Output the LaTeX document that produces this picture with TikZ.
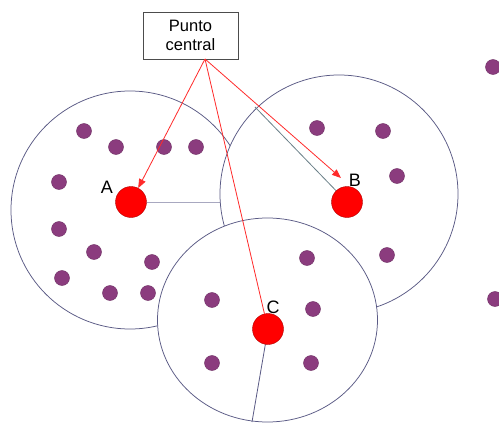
\documentclass[tikz,border=0pt]{standalone}
\usepackage{fontspec}
\setmainfont{Liberation Sans}
\usetikzlibrary{arrows.meta}
\definecolor{ring}{HTML}{5A5A85}
\definecolor{dotc}{HTML}{8B3C7E}
\definecolor{dotrim}{HTML}{6E2E63}
\definecolor{redc}{HTML}{FF0000}
\definecolor{arrowc}{HTML}{FF2A2A}
\definecolor{lightline}{HTML}{A8A8C0}
\definecolor{tealline}{HTML}{6A8088}
\tikzset{
  region/.style={draw=ring, line width=0.75pt, fill=white},
  pdot/.style={circle, fill=dotc, draw=dotrim, line width=0.4pt, minimum size=15pt, inner sep=0pt},
  center/.style={circle, fill=redc, draw=red!70!black, line width=0.4pt, minimum size=31pt, inner sep=0pt},
  lbl/.style={font=\fontsize{18}{20}\selectfont, inner sep=0pt},
  radline/.style={line width=0.8pt},
  ptr/.style={draw=arrowc, line width=0.8pt},
}
\begin{document}
\begin{tikzpicture}[x=1pt,y=-1pt]
\useasboundingbox (0,0) rectangle (499,423);
\fill[white] (0,0) rectangle (499,423);
% cluster A
\draw[region] (130,210) circle[radius=119];
\node[center] (A) at (131,202) {};
\coordinate (Aend) at (250,202);
\draw[radline, draw=lightline] (A.east) -- (Aend);
\foreach \i/\p in {a1/{(84,131)},a2/{(116,147)},a3/{(164,147)},a4/{(196,147)},a5/{(59,182)},a6/{(59,229)},a7/{(94,252)},a8/{(152,262)},a9/{(62,278)},a10/{(110,293)},a11/{(148,293)}}
  \node[pdot] (\i) at \p {};
% cluster B
\draw[region] (339,194) circle[radius=119];
\coordinate (Bc) at (347,202);
\coordinate (Bend) at (255,107);
\draw[radline, draw=tealline] (Bc) -- (Bend);
\node[center] (B) at (Bc) {};
\foreach \i/\p in {b1/{(317,128)},b2/{(383,131)},b3/{(397,176)},b4/{(387,255)}}
  \node[pdot] (\i) at \p {};
% cluster C
\draw[region] (267.5,320) ellipse[x radius=110, y radius=102];
\coordinate (Cc) at (268,329);
\coordinate (Cend) at (252,422);
\draw[radline, draw=ring] (Cc) -- (Cend);
\node[center] (C) at (Cc) {};
\foreach \i/\p in {c1/{(307,258)},c2/{(313,309)},c3/{(311,363)},c4/{(212,300)},c5/{(212,363)}}
  \node[pdot] (\i) at \p {};
% outside dots
\node[pdot] (o1) at (493,67) {};
\node[pdot] (o2) at (495,299) {};
% labels
\node[lbl] (la) at (107,187) {A};
\node[lbl] (lb) at (355,180) {B};
\node[lbl] (lc) at (273,307) {C};
% box
\node[draw=black!70, line width=0.7pt, fill=white, minimum width=95pt, minimum height=47pt, inner sep=0pt, align=center, font=\fontsize{16.5}{19.5}\selectfont] (box) at (190.5,35.5) {Punto\\central};
\coordinate (src) at (205,59);
\coordinate (Btip) at (341,178);
\draw[ptr, -{Triangle[length=9pt,width=7pt]}] (src) -- (A);
\draw[ptr, -{Triangle[length=9pt,width=7pt]}] (src) -- (Btip);
\draw[ptr] (src) -- (C);
\end{tikzpicture}
\end{document}
